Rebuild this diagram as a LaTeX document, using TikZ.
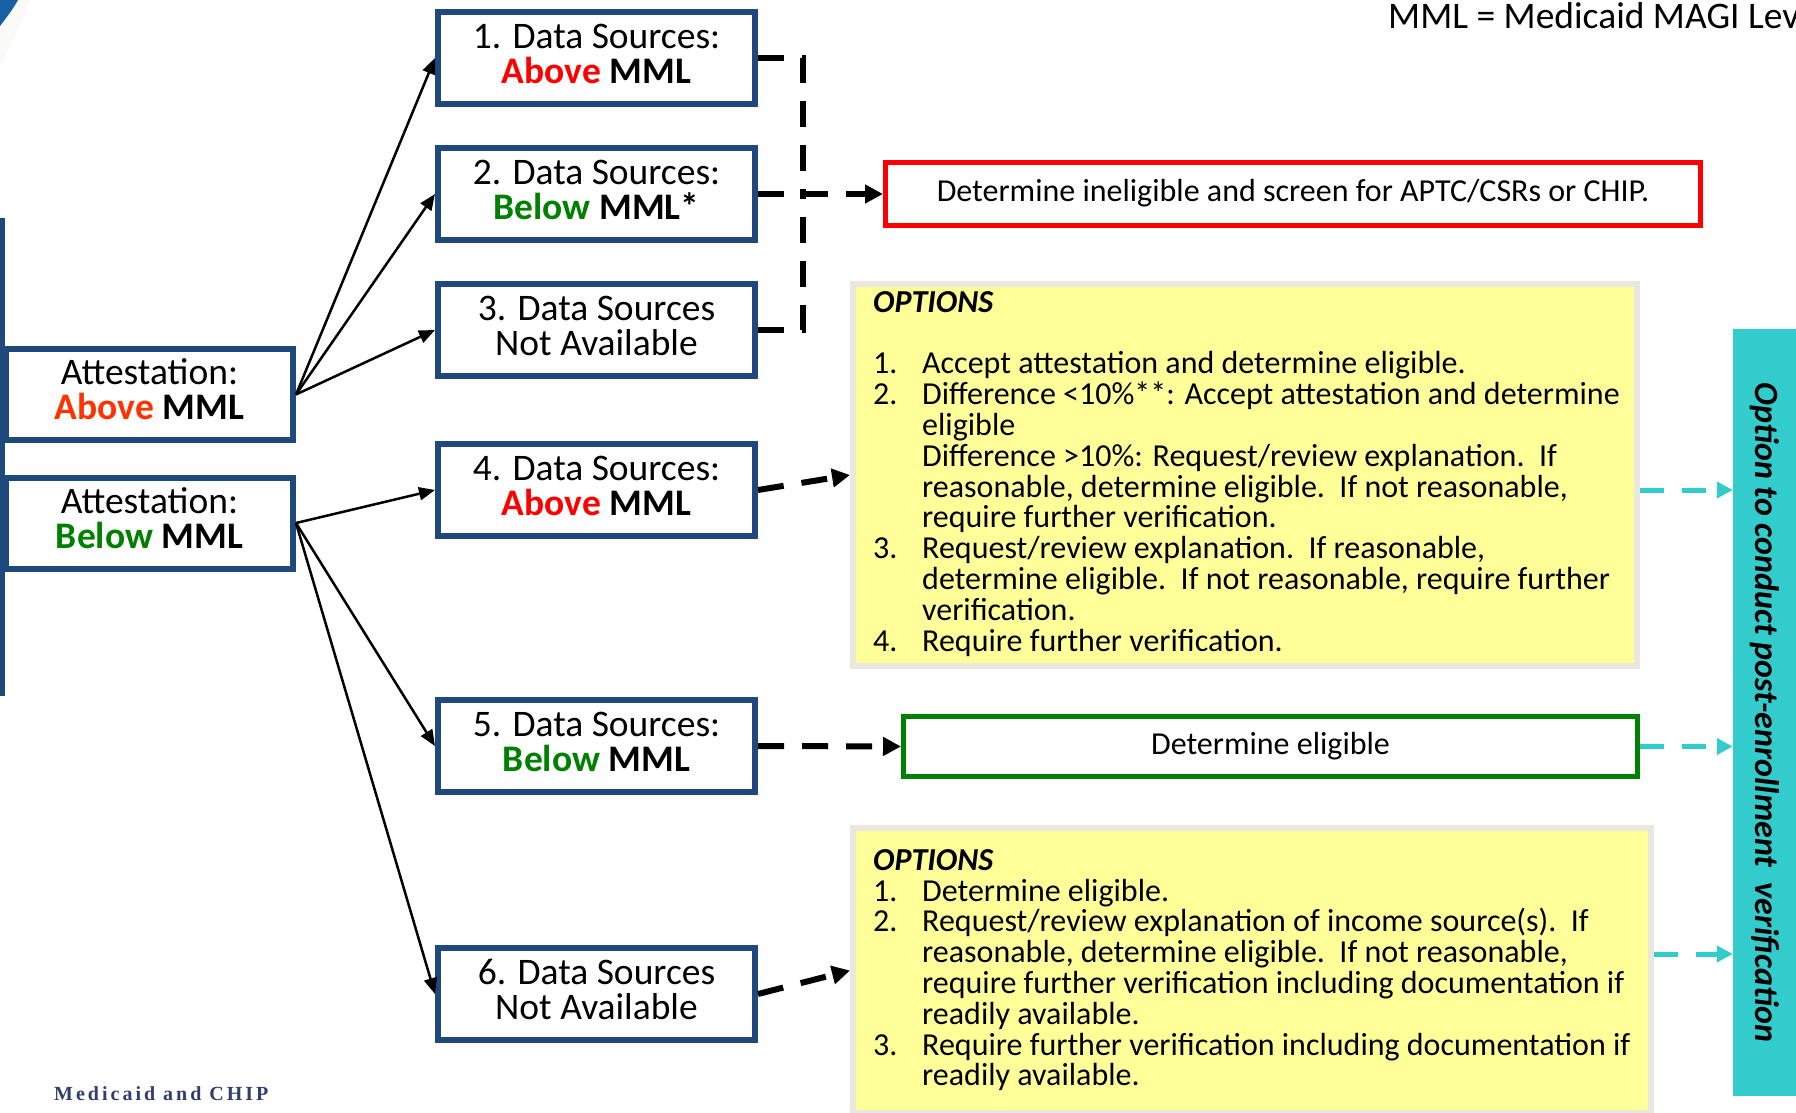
\documentclass[tikz,border=0pt]{standalone}
\usepackage{fontspec}
\setmainfont{Carlito}
\newfontfamily\logofont[LetterSpace=15]{Liberation Serif}
\usetikzlibrary{arrows.meta}
\definecolor{boxblue}{RGB}{31,73,125}
\definecolor{abovered}{RGB}{255,0,0}
\definecolor{aboveorange}{RGB}{255,51,0}
\definecolor{belowgreen}{RGB}{0,128,0}
\definecolor{optyellow}{RGB}{255,255,153}
\definecolor{optgray}{RGB}{234,232,222}
\definecolor{postteal}{RGB}{51,204,204}
\definecolor{logoblue}{RGB}{46,62,110}
\definecolor{swoosh}{RGB}{25,95,165}
\definecolor{swooshglow}{RGB}{250,250,247}
\newcommand\tightlines{\lineskiplimit=-100pt\relax}
\newcommand\firstline{\rule{0pt}{24pt}}
\begin{document}
\begin{tikzpicture}[x=1pt,y=-1pt,
  dsbox/.style={draw=boxblue, line width=6pt, fill=white, minimum width=317pt,
    minimum height=92pt, inner sep=0pt, align=center,
    font=\fontsize{37.5}{35}\selectfont,
    execute at end node={\rule[-9pt]{0pt}{9pt}}},
  attbox/.style={dsbox, minimum width=287pt, minimum height=91pt,
    execute at end node={\rule[-10pt]{0pt}{10pt}}},
  optbox/.style={draw=optgray, line width=6pt, fill=optyellow, inner sep=0pt},
  resultbox/.style={line width=5pt, inner sep=0pt, font=\fontsize{32}{36}\selectfont},
  feed/.style={line width=2.5pt, -{Triangle[length=16pt,width=13pt]}},
  route/.style={line width=6pt, dash pattern=on 26pt off 18pt},
  routearrow/.style={route, -{Triangle[length=18pt,width=18pt]}},
  postarrow/.style={draw=postteal, line width=5pt, dash pattern=on 24pt off 18pt,
    -{Triangle[length=16pt,width=16pt]}},
  opttext/.style={anchor=north west, inner sep=0pt, align=left,
    font=\fontsize{32}{30.8}\selectfont\tightlines}
]
\useasboundingbox (0,0) rectangle (1796,1113);

% template decorations
\fill[swooshglow] (0,0) -- (30,0) .. controls (22,22) and (11,45) .. (0,68) -- cycle;
\fill[swoosh] (0,0) -- (18,0) .. controls (13,9) and (7,17) .. (0,26) -- cycle;
\fill[boxblue] (0,218) rectangle (5,696);
\node[anchor=base west, inner sep=0pt, text=logoblue,
  font=\logofont\bfseries\fontsize{20}{22}\selectfont] (logo) at (54,1100) {Medicaid and CHIP};

% legend
\node[anchor=base west, inner sep=0pt, font=\fontsize{37.5}{40}\selectfont] (legend)
  at (1388,29) {MML = Medicaid MAGI Lev};

% attestation boxes
\node[attbox] (attA) at (149.5,394.5) {Attestation:\\\textbf{\textcolor{aboveorange}{Above} MML}};
\node[attbox] (attB) at (149.5,523) {Attestation:\\\textbf{\textcolor{belowgreen}{Below} MML}};

% data source boxes
\node[dsbox] (b1) at (596.5,58) {1. Data Sources:\\\textbf{\textcolor{abovered}{Above} MML}};
\node[dsbox] (b2) at (596.5,194) {2. Data Sources:\\\textbf{\textcolor{belowgreen}{Below} MML*}};
\node[dsbox] (b3) at (596.5,330) {3. Data Sources\\Not Available};
\node[dsbox] (b4) at (596.5,490) {4. Data Sources:\\\textbf{\textcolor{abovered}{Above} MML}};
\node[dsbox] (b5) at (596.5,746) {5. Data Sources:\\\textbf{\textcolor{belowgreen}{Below} MML}};
\node[dsbox] (b6) at (596.5,994) {6. Data Sources\\Not Available};

% outcomes
\node[resultbox, draw=abovered, minimum width=815pt, minimum height=63pt] (inel)
  at (1293,193.5) {Determine ineligible and screen for APTC/CSRs or CHIP.};
\node[resultbox, draw=belowgreen, minimum width=734pt, minimum height=60pt] (elig)
  at (1270.5,746.5) {Determine eligible};

\node[optbox, minimum width=784pt, minimum height=382pt] (opt1) at (1245,475) {};
\node[opttext] (opt1text) at (873,288) {%
  \firstline\textbf{\textit{OPTIONS}}\\[30.8pt]
  \makebox[49pt][l]{1.}Accept attestation and determine eligible.\\
  \makebox[49pt][l]{2.}Difference <10\%**: Accept attestation and determine\\
  \hspace*{49pt}eligible\\
  \hspace*{49pt}Difference >10\%: Request/review explanation.\ \ If\\
  \hspace*{49pt}reasonable, determine eligible.\ \ If not reasonable,\\
  \hspace*{49pt}require further verification.\\
  \makebox[49pt][l]{3.}Request/review explanation.\ \ If reasonable,\\
  \hspace*{49pt}determine eligible.\ \ If not reasonable, require further\\
  \hspace*{49pt}verification.\\
  \makebox[49pt][l]{4.}Require further verification.};

\node[optbox, minimum width=798pt, minimum height=285pt] (opt2) at (1252,970.5) {};
\node[opttext] (opt2text) at (873,846) {%
  \firstline\textbf{\textit{OPTIONS}}\\
  \makebox[49pt][l]{1.}Determine eligible.\\
  \makebox[49pt][l]{2.}Request/review explanation of income source(s).\ \ If\\
  \hspace*{49pt}reasonable, determine eligible.\ \ If not reasonable,\\
  \hspace*{49pt}require further verification including documentation if\\
  \hspace*{49pt}readily available.\\
  \makebox[49pt][l]{3.}Require further verification including documentation if\\
  \hspace*{49pt}readily available.};

% post-enrollment band
\node[fill=postteal, minimum width=63pt, minimum height=767pt, inner sep=0pt] (post)
  at (1764.5,712.5) {};
\node[rotate=-90, inner sep=0pt, font=\fontsize{34}{36}\selectfont\bfseries\itshape]
  (posttext) at (post.center) {Option to conduct post-enrollment\ \ verification};

% attestation to data sources
\draw[feed] (attA.east) -- (b1.west);
\draw[feed] (attA.east) -- (b2.west);
\draw[feed] (attA.east) -- (b3.west);
\draw[feed] (attB.east) -- (b4.west);
\draw[feed] (attB.east) -- (b5.west);
\draw[feed] (attB.east) -- (b6.west);

% data sources to outcomes
\coordinate (jn) at (803,193.5);
\draw[route] (b1.east) -| (jn);
\draw[route] (b3.east) -| (jn);
\draw[routearrow] (b2.east) -- (b2.east -| inel.west);
\draw[routearrow] (b4.east) -- (opt1.west);
\draw[routearrow] (b5.east) -- (elig.west);
\draw[routearrow] (b6.east) -- (opt2.west);

% outcomes to post-enrollment verification
\draw[postarrow] (opt1.east |- b4.east) -- (post.west |- b4.east);
\draw[postarrow] (elig.east) -- (post.west |- elig.east);
\coordinate (lvl3) at (1654,954);
\draw[postarrow] (lvl3) -- (post.west |- lvl3);
\end{tikzpicture}
\end{document}
